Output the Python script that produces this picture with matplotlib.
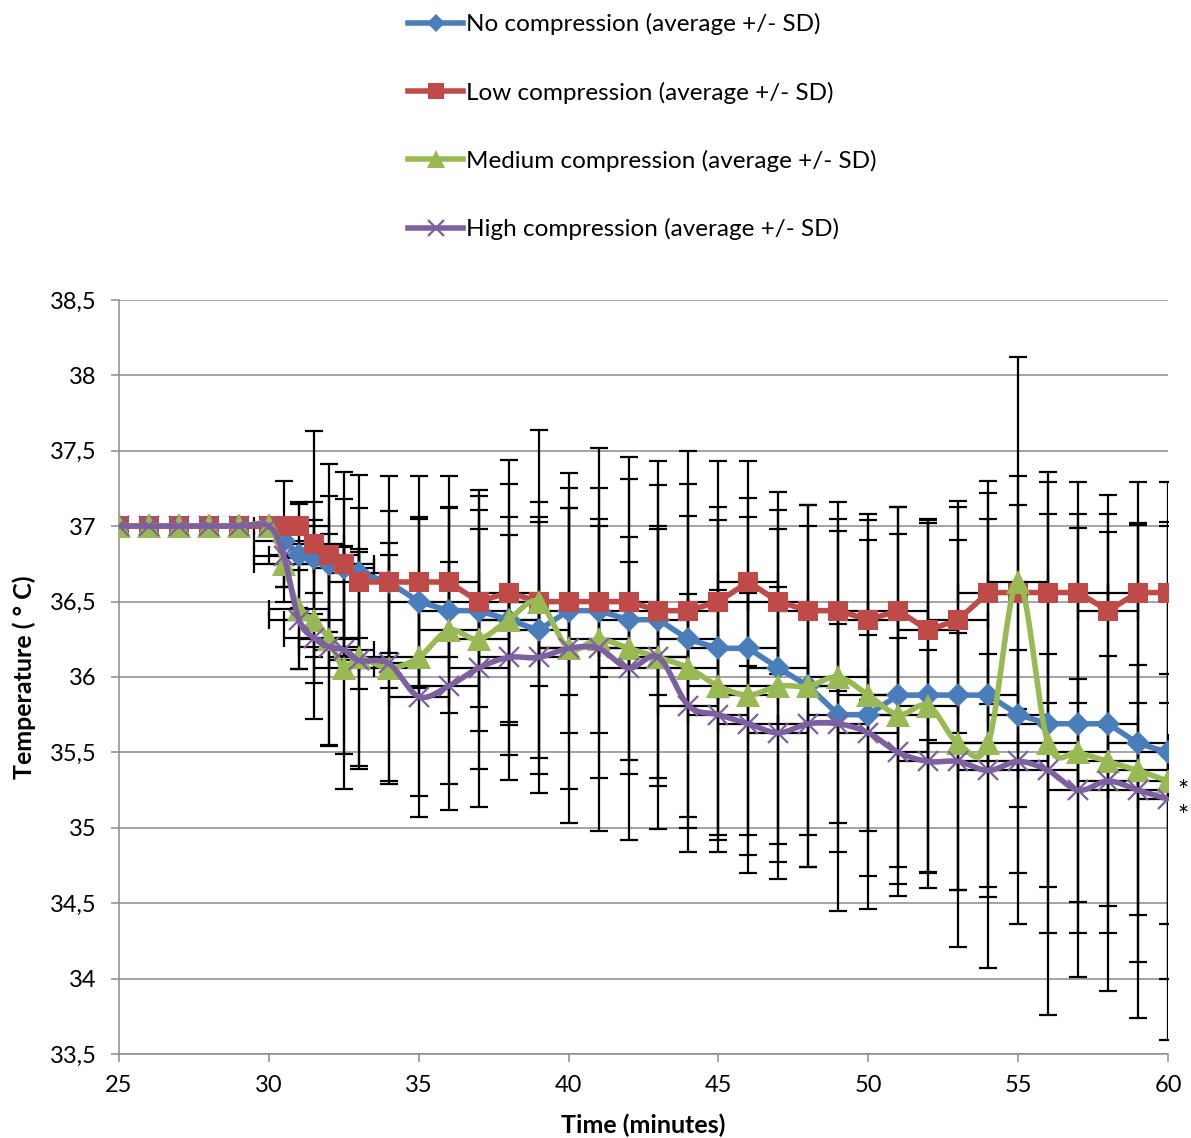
import matplotlib.pyplot as plt
import numpy as np
from matplotlib.ticker import FuncFormatter, MultipleLocator

# time points (minutes)
minutes = [25, 26, 27, 28, 29, 30, 30.5, 31, 31.5, 32, 32.5, 33,
           34, 35, 36, 37, 38, 39, 40, 41, 42, 43, 44, 45, 46, 47,
           48, 49, 50, 51, 52, 53, 54, 55, 56, 57, 58, 59, 60]

no_mean = [37, 37, 37, 37, 37, 37, 36.9, 36.81, 36.79, 36.75, 36.72, 36.69,
           36.63, 36.5, 36.44, 36.44, 36.38, 36.31, 36.44, 36.44, 36.38, 36.38,
           36.25, 36.19, 36.19, 36.06, 35.94, 35.75, 35.75, 35.88, 35.88, 35.88,
           35.88, 35.75, 35.69, 35.69, 35.69, 35.56, 35.5]
no_sd = [0, 0, 0, 0, 0, 0, 0.4, 0.35, 0.37, 0.45, 0.46, 0.43,
         0.47, 0.56, 0.68, 0.8, 0.9, 0.85, 0.81, 0.81, 0.93, 1.05,
         1.25, 1.24, 1.24, 1.17, 1.2, 1.3, 1.29, 1.25, 1.17, 1.29,
         1.34, 1.39, 1.39, 1.39, 1.39, 1.45, 1.5]

low_mean = [37, 37, 37, 37, 37, 37, 37, 37, 36.88, 36.81, 36.75, 36.63,
            36.63, 36.63, 36.63, 36.5, 36.56, 36.5, 36.5, 36.5, 36.5, 36.44,
            36.44, 36.5, 36.63, 36.5, 36.44, 36.44, 36.38, 36.44, 36.31, 36.38,
            36.56, 36.56, 36.56, 36.56, 36.44, 36.56, 36.56]
low_sd = [0, 0, 0, 0, 0, 0, 0, 0.15, 0.75, 0.6, 0.61, 0.71,
          0.7, 0.7, 0.5, 0.7, 0.88, 0.56, 0.62, 0.5, 0.43, 0.56,
          0.63, 0.63, 0.56, 0.48, 0.56, 0.53, 0.53, 0.69, 0.73, 0.75,
          0.74, 0.77, 0.73, 0.73, 0.77, 0.73, 0.73]

med_mean = [37, 37, 37, 37, 37, 37, 36.75, 36.45, 36.38, 36.25, 36.06, 36.13,
            36.06, 36.13, 36.31, 36.25, 36.38, 36.5, 36.19, 36.25, 36.19, 36.13,
            36.06, 35.94, 35.88, 35.94, 35.94, 36.0, 35.88, 35.75, 35.81, 35.56,
            35.56, 36.63, 35.56, 35.5, 35.44, 35.38, 35.31]
med_sd = [0, 0, 0, 0, 0, 0, 0.15, 0.4, 0.66, 0.7, 0.8, 0.72,
          0.75, 0.92, 1.02, 0.86, 0.68, 1.14, 0.93, 1.27, 1.27, 1.14,
          1.22, 1.1, 1.18, 1.17, 1.2, 1.16, 1.2, 1.2, 1.21, 1.35,
          1.49, 1.49, 1.8, 1.49, 1.52, 1.64, 1.72]

high_mean = [37, 37, 37, 37, 37, 37, 36.8, 36.38, 36.26, 36.2, 36.18, 36.11,
             36.09, 35.87, 35.94, 36.06, 36.13, 36.13, 36.19, 36.19, 36.06, 36.13,
             35.81, 35.75, 35.69, 35.63, 35.69, 35.69, 35.63, 35.5, 35.44, 35.44,
             35.38, 35.44, 35.38, 35.25, 35.31, 35.25, 35.19]
high_sd = [0, 0, 0, 0, 0, 0, 0.2, 0.33, 0.3, 0.66, 0.69, 0.72,
           0.8, 0.8, 0.82, 0.92, 0.81, 0.9, 1.16, 0.86, 0.7, 0.85,
           0.74, 0.83, 0.87, 0.97, 0.74, 0.66, 0.65, 0.76, 0.74, 0.85,
           0.77, 0.74, 0.77, 0.74, 0.83, 0.83, 0.83]

time_sd = 1  # horizontal error bars (minutes)


def smooth(x, y, n=24):
    # Excel-like smoothed line (Bezier through the points)
    x = np.asarray(x, float)
    y = np.asarray(y, float)
    xs, ys = [x[0]], [y[0]]
    t = np.linspace(0, 1, n)[1:]
    for i in range(len(x) - 1):
        j0 = max(i - 1, 0)
        j3 = min(i + 2, len(x) - 1)
        c1x = x[i] + (x[i + 1] - x[j0]) / 6
        c1y = y[i] + (y[i + 1] - y[j0]) / 6
        c2x = x[i + 1] - (x[j3] - x[i]) / 6
        c2y = y[i + 1] - (y[j3] - y[i]) / 6
        bx = ((1 - t) ** 3 * x[i] + 3 * (1 - t) ** 2 * t * c1x
              + 3 * (1 - t) * t ** 2 * c2x + t ** 3 * x[i + 1])
        by = ((1 - t) ** 3 * y[i] + 3 * (1 - t) ** 2 * t * c1y
              + 3 * (1 - t) * t ** 2 * c2y + t ** 3 * y[i + 1])
        xs.extend(bx)
        ys.extend(by)
    return np.array(xs), np.array(ys)


plt.rcParams['font.family'] = ['Lato', 'DejaVu Sans']

fig = plt.figure(figsize=(11.91, 11.38), dpi=100)
ax = fig.add_axes([0.0999, 0.0738, 0.8808, 0.6626])

series = [
    ('No compression (average +/- SD)', no_mean, no_sd, '#4A7EBB', 'D', 12, False),
    ('Low compression (average +/- SD)', low_mean, low_sd, '#BE4B48', 's', 15, False),
    ('Medium compression (average +/- SD)', med_mean, med_sd, '#98B954', '^', 17, True),
    ('High compression (average +/- SD)', high_mean, high_sd, '#7D60A0', 'x', 14, True),
]

handles = []
for k, (label, mean, sd, color, marker, ms, smoothed) in enumerate(series):
    ax.errorbar(minutes, mean, yerr=sd, xerr=time_sd, fmt='none',
                ecolor='black', elinewidth=1.6, capsize=6.5, capthick=1.6,
                zorder=2)
    if smoothed:
        sx, sy = smooth(minutes, mean)
    else:
        sx, sy = minutes, mean
    ax.plot(sx, sy, color=color, linewidth=4, solid_capstyle='round',
            zorder=3 + k)
    mew = 1.6 if marker == 'x' else 0
    ax.plot(minutes, mean, linestyle='none', marker=marker, markersize=ms,
            color=color, markeredgewidth=mew, zorder=3 + k)
    h, = ax.plot([], [], color=color, linewidth=4, marker=marker,
                 markersize=ms * 0.8, markeredgewidth=mew)
    handles.append(h)

# significance marks next to the last medium / high values
for mean, dy in ((med_mean, -8), (high_mean, -13.5)):
    ax.annotate('*', (minutes[-1], mean[-1]), xytext=(7, dy),
                textcoords='offset points', fontsize=19, ha='left', va='center',
                annotation_clip=False)

ax.set_xlim(25, 60)
ax.set_ylim(33.5, 38.5)
ax.xaxis.set_major_locator(MultipleLocator(5))
ax.yaxis.set_major_locator(MultipleLocator(0.5))
ax.yaxis.set_major_formatter(
    FuncFormatter(lambda v, p: ('%g' % v).replace('.', ',')))
ax.grid(axis='y', color='#8C8C8C', linewidth=1.1)
ax.set_axisbelow(True)
for s in ('top', 'right'):
    ax.spines[s].set_visible(False)
for s in ('left', 'bottom'):
    ax.spines[s].set_color('#8C8C8C')
    ax.spines[s].set_linewidth(1.1)
ax.tick_params(axis='both', colors='#8C8C8C', labelcolor='black',
               labelsize=17, length=6, width=1.1)
ax.tick_params(axis='y', pad=10)
ax.tick_params(axis='x', pad=9)

ax.set_xlabel('Time (minutes)', fontsize=18, fontweight='bold', labelpad=12.5)
ax.set_ylabel('Temperature ( ° C)', fontsize=18, fontweight='bold', labelpad=10)

fig.legend(handles, [s[0] for s in series], loc='upper left',
           bbox_to_anchor=(0.332, 0.999), frameon=False, fontsize=17.5,
           handlelength=2.3, handletextpad=0.1, labelspacing=1.9,
           borderpad=0, numpoints=1)

fig.savefig('out.png', dpi=100)
